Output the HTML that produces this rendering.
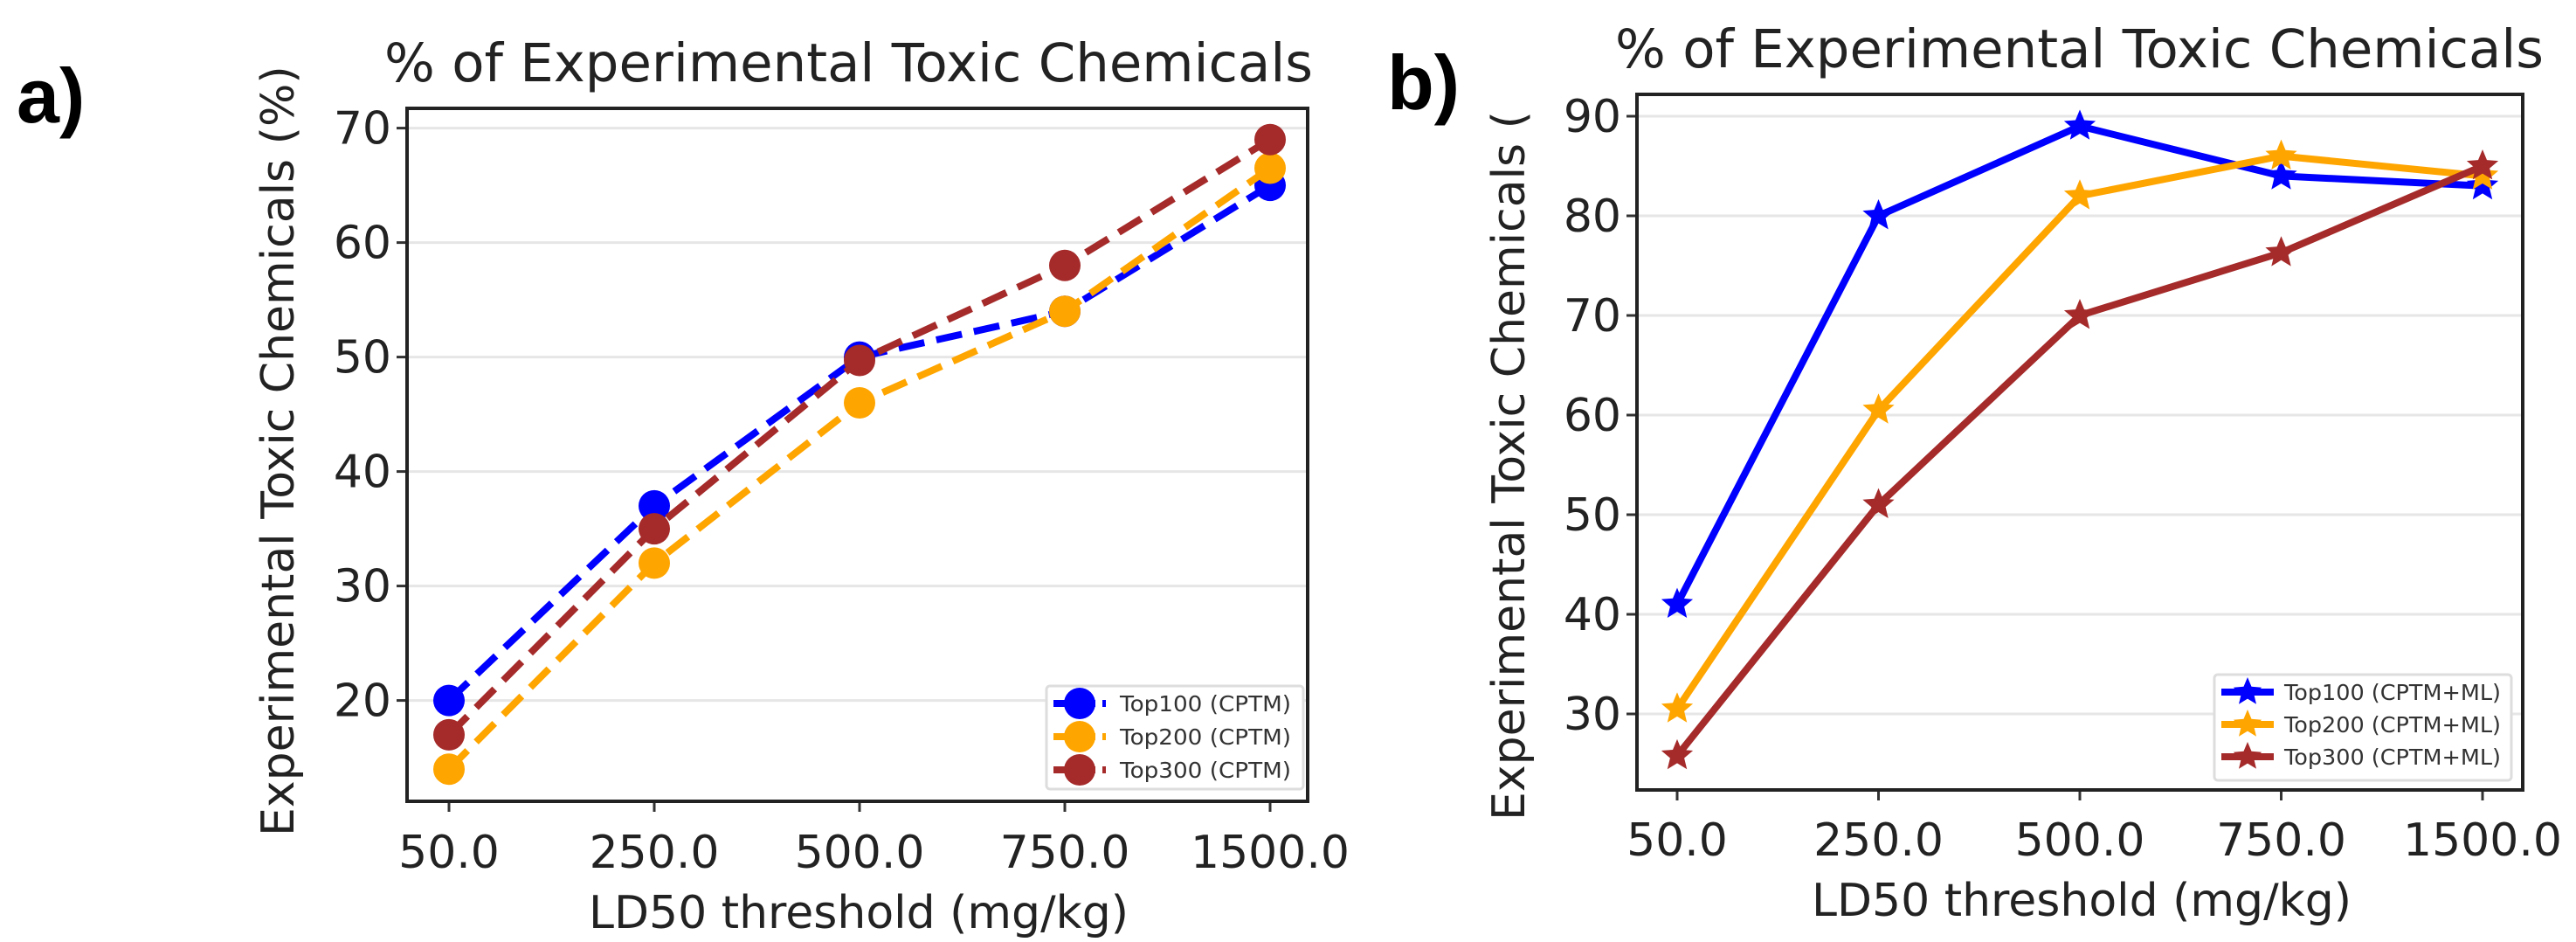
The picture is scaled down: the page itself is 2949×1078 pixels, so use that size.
<!DOCTYPE html>
<html><head><meta charset="utf-8"><style>
html,body{margin:0;padding:0;background:#fff;}
svg{display:block;font-family:"DejaVu Sans","Liberation Sans",sans-serif;}
</style></head><body>
<svg id="fig" width="2949" height="1078" viewBox="0 0 2949 1078" xmlns="http://www.w3.org/2000/svg">
<rect width="2949" height="1078" fill="#fff"/>
<text x="19" y="140" font-family="Liberation Sans, sans-serif" font-weight="bold" font-size="88" fill="#000">a)</text>
<text x="1588" y="125" font-family="Liberation Sans, sans-serif" font-weight="bold" font-size="88" fill="#000">b)</text>
<g id="pa"></g>
<g id="pb"></g>
</svg>
<script>
const categories = ["50.0","250.0","500.0","750.0","1500.0"];
const aTop100 = [20, 37, 50, 54, 65];
const aTop200 = [14, 32, 46, 54, 66.5];
const aTop300 = [17, 35, 49.7, 58, 69];
const aTicks = [20, 30, 40, 50, 60, 70];
const bTop100 = [41, 80, 89, 84, 83];
const bTop200 = [30.5, 60.5, 82, 86, 84];
const bTop300 = [25.8, 51, 70, 76.3, 85];
const bTicks = [30, 40, 50, 60, 70, 80, 90];
const aNames = ["Top100 (CPTM)","Top200 (CPTM)","Top300 (CPTM)"];
const bNames = ["Top100 (CPTM+ML)","Top200 (CPTM+ML)","Top300 (CPTM+ML)"];
const colors = ["#0000ff","#ffa500","#a52a2a"];
const NS = "http://www.w3.org/2000/svg";
function mk(parent, tag, attrs, text){
  const e = document.createElementNS(NS, tag);
  for (const k in attrs) e.setAttribute(k, attrs[k]);
  if (text !== undefined) e.textContent = text;
  parent.appendChild(e);
  return e;
}
function star(cx, cy, r){
  let p = [];
  for (let i=0;i<10;i++){
    const rr = i%2===0 ? r : r*0.45;
    const a = -Math.PI/2 + i*Math.PI/5;
    p.push((cx+rr*Math.cos(a)).toFixed(1)+","+(cy+rr*Math.sin(a)).toFixed(1));
  }
  return p.join(" ");
}
function drawChart(g, cfg){
  const x = i => cfg.x0 + i*cfg.xstep;
  const y = v => cfg.yTop + (cfg.vTop - v)*cfg.ppu;
  cfg.ticks.forEach(t=>{
    const gl = mk(g,"line",{x1:cfg.L,x2:cfg.R,y1:y(t),y2:y(t),stroke:"#e6e6e6","stroke-width":3});
    
    
    const tk = mk(g,"line",{x1:cfg.L-12,x2:cfg.L,y1:y(t),y2:y(t),stroke:"#333","stroke-width":3});
    
    
    const tl = mk(g,"text",{x:cfg.L-18,y:y(t)+18,"text-anchor":"end","font-size":52,fill:"#222"},String(t));
    
    
  });
  categories.forEach((c,i)=>{
    const tk = mk(g,"line",{x1:x(i),x2:x(i),y1:cfg.B,y2:cfg.B+12,stroke:"#333","stroke-width":3});
    
    
    const tl = mk(g,"text",{x:x(i),y:cfg.xlY,"text-anchor":"middle","font-size":52,fill:"#222"},c);
    
    
  });
  cfg.series.forEach((s,si)=>{
    const pts = s.map((v,i)=>x(i)+","+y(v)).join(" ");
    const ln = mk(g,"polyline",{points:pts,fill:"none",stroke:colors[si],"stroke-width":8,"stroke-dasharray":cfg.dashed?"30,14":"none","stroke-linejoin":"round"});
    
    
    s.forEach((v,i)=>{
      let m;
      if (cfg.dashed) m = mk(g,"circle",{cx:x(i),cy:y(v),r:18,fill:colors[si]});
      else m = mk(g,"polygon",{points:star(x(i),y(v),19),fill:colors[si]});
      
      
    });
  });
  const box = mk(g,"rect",{x:cfg.L,y:cfg.T,width:cfg.R-cfg.L,height:cfg.B-cfg.T,fill:"none",stroke:"#222","stroke-width":4});
  
  
  const tt = mk(g,"text",{x:cfg.titleX,y:cfg.titleY,"font-size":61,fill:"#222",textLength:1063,lengthAdjust:"spacingAndGlyphs"},"% of Experimental Toxic Chemicals");
  
  
  const xl = mk(g,"text",{x:cfg.xLabX,y:cfg.xLabY,"text-anchor":"middle","font-size":52,fill:"#222"},"LD50 threshold (mg/kg)");
  
  
  const yl = mk(g,"text",{x:0,y:0,transform:"translate("+cfg.yLabX+","+cfg.yLabY+") rotate(-90)","font-size":52,fill:"#222"},cfg.yLabText);
  
  
  const lg = mk(g,"g",{});
  
  
  const lb = mk(lg,"rect",{x:cfg.lgX,y:cfg.lgY,width:cfg.lgW,height:cfg.lgH,fill:"#fff",stroke:"#ddd","stroke-width":3,rx:4});
  
  
  cfg.names.forEach((n,i)=>{
    const ey = cfg.lgY+20+i*cfg.lgStep;
    const e = mk(lg,"g",{});
    
    
    mk(e,"line",{x1:cfg.lgX+8,x2:cfg.lgX+68,y1:ey,y2:ey,stroke:colors[i],"stroke-width":8,"stroke-dasharray":cfg.dashed?"20,8":"none"});
    if (cfg.dashed) mk(e,"circle",{cx:cfg.lgX+38,cy:ey,r:18,fill:colors[i]});
    else mk(e,"polygon",{points:star(cfg.lgX+38,ey,17),fill:colors[i]});
    mk(e,"text",{x:cfg.lgX+cfg.lgTextDx,y:ey+9,"font-size":25,fill:"#333",textLength:cfg.lgTextW,lengthAdjust:"spacingAndGlyphs"},n);
  });
}
drawChart(document.getElementById("pa"), {
  L:466,R:1497,T:124,B:917,x0:514,xstep:235,yTop:146.6,vTop:70,ppu:13.1,
  ticks:aTicks,series:[aTop100,aTop200,aTop300],dashed:true,xlY:993,
  titleX:440,titleY:93,xLabX:983,xLabY:1062,yLabX:336,yLabY:957,yLabText:"Experimental Toxic Chemicals (%)",
  names:aNames,lgX:1198,lgY:785,lgW:294,lgH:118,lgStep:38,lgTextDx:84,lgTextW:196
});
drawChart(document.getElementById("pb"), {
  L:1874,R:2888,T:108,B:904,x0:1920,xstep:230.5,yTop:133,vTop:90,ppu:11.4,
  ticks:bTicks,series:[bTop100,bTop200,bTop300],dashed:false,xlY:979,
  titleX:1849,titleY:77,xLabX:2383,xLabY:1048,yLabX:1745,yLabY:939,yLabText:"Experimental Toxic Chemicals (",
  names:bNames,lgX:2535,lgY:772,lgW:340,lgH:121,lgStep:37,lgTextDx:80,lgTextW:248
});
</script>
</body></html>
